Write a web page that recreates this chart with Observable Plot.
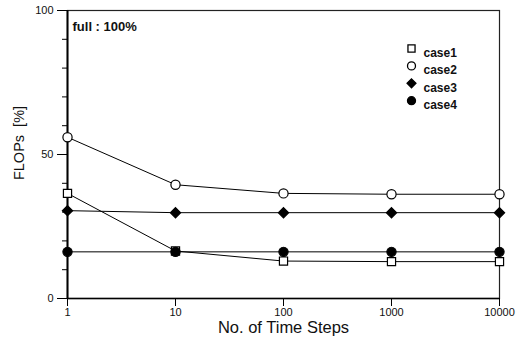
<!DOCTYPE html>
<html><head><meta charset="utf-8">
<script src="https://cdn.jsdelivr.net/npm/d3@7"></script>
<script src="https://cdn.jsdelivr.net/npm/@observablehq/plot@0.6"></script>
<style>body{margin:0;background:#fff;font-family:"Liberation Sans",Arial,sans-serif;}</style>
</head><body><div id="chart"></div>
<script>
const steps = [1, 10, 100, 1000, 10000];
const case1 = [36.5, 16.5, 13, 12.8, 12.8];
const case2 = [56, 39.5, 36.5, 36.2, 36.2];
const case3 = [30.5, 29.8, 29.8, 29.8, 29.8];
const case4 = [16.2, 16.2, 16.2, 16.2, 16.2];
const seriesNames = ["case1", "case2", "case3", "case4"];
const yMajor = [0, 50, 100];
const yMinor = [10, 20, 30, 40, 60, 70, 80, 90];
const xTicks = [1, 10, 100, 1000, 10000];

const symbols = {case1: "square", case2: "circle", case3: "diamond2", case4: "circle"};
const fills = {case1: "white", case2: "white", case3: "black", case4: "black"};
const all = [case1, case2, case3, case4];
const data = [];
seriesNames.forEach((s, i) => steps.forEach((x, j) => data.push({series: s, x, y: all[i][j]})));

const legendMarks = seriesNames.map((s, i) => [
  Plot.dot([s], {frameAnchor: "top-left", dx: 344, dy: 38 + i * 17.4, symbol: () => symbols[s], r: 4, fill: fills[s], stroke: "black", strokeWidth: 1.3}),
  Plot.text([s], {frameAnchor: "top-left", dx: 356, dy: 38 + i * 17.4, text: d => d, textAnchor: "start", fontSize: 12, fontWeight: "bold", fill: "#111"})
]).flat();

const chart = Plot.plot({
  width: 525, height: 341,
  marginLeft: 67, marginRight: 26, marginTop: 10, marginBottom: 43,
  style: {fontFamily: "'Liberation Sans', Arial, sans-serif", background: "white", color: "#111"},
  x: {type: "log", domain: [1, 10000]},
  y: {domain: [0, 100]},
  symbol: {domain: seriesNames, range: seriesNames.map(s => symbols[s])},
  marks: [
    Plot.frame({stroke: "#222", strokeWidth: 1.2}),
    Plot.axisY({ticks: yMinor, tickSize: 5, tickFormat: () => "", stroke: "black", label: null}),
    Plot.axisY({ticks: yMajor, tickSize: 10, tickPadding: 4, fontSize: 11, stroke: "black", label: null}),
    Plot.axisX({ticks: xTicks, tickSize: 8, tickPadding: 2, fontSize: 11, tickFormat: d => String(d), label: null, stroke: "black"}),
    Plot.ruleX([1], {stroke: "black", strokeWidth: 2}),
    Plot.ruleY([0], {stroke: "black", strokeWidth: 1.5}),
    Plot.line(data, {x: "x", y: "y", z: "series", stroke: "black", strokeWidth: 1}),
    Plot.dot(data, {x: "x", y: "y", symbol: "series", r: 4.6, stroke: "black", strokeWidth: 1.2, fill: d => fills[d.series]}),
    Plot.text(["full : 100%"], {frameAnchor: "top-left", dx: 5, dy: 11, text: d => d, textAnchor: "start", fontSize: 13, fontWeight: "bold", fill: "#111"}),
    ...legendMarks,
    Plot.text(["FLOPs\u00a0\u00a0[%]"], {frameAnchor: "left", textAnchor: "middle", dx: -48, dy: -11.5, rotate: -90, text: d => d, fontSize: 14.5, fill: "#111"}),
    Plot.text(["No. of Time Steps"], {frameAnchor: "bottom", textAnchor: "middle", dy: 34.5, text: d => d, fontSize: 16.5, fill: "#111"})
  ]
});
document.getElementById("chart").append(chart);
</script></body></html>
